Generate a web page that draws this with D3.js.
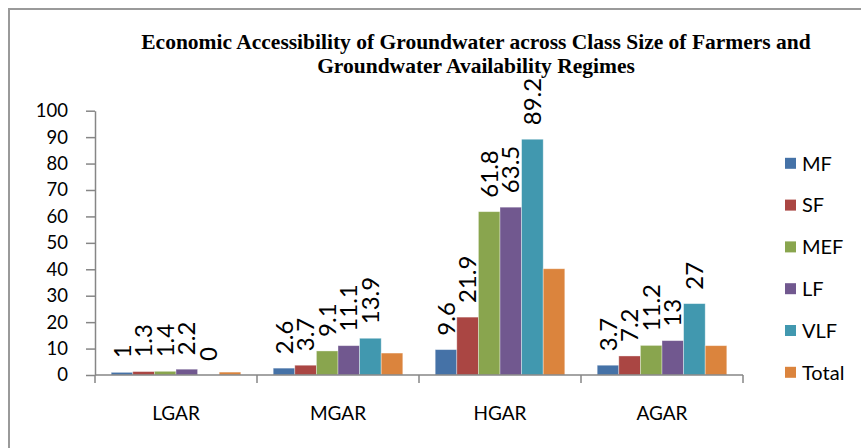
<!DOCTYPE html>
<html>
<head>
<meta charset="utf-8">
<script src="https://cdn.jsdelivr.net/npm/d3@7"></script>
<style>
  html, body { margin: 0; padding: 0; background: #fff; }
  svg { display: block; }
</style>
</head>
<body>
<svg id="chart" width="861" height="448"></svg>
<script>
const categories = ["LGAR", "MGAR", "HGAR", "AGAR"];
const seriesNames = ["MF", "SF", "MEF", "LF", "VLF", "Total"];
const MF    = [1, 2.6, 9.6, 3.7];
const SF    = [1.3, 3.7, 21.9, 7.2];
const MEF   = [1.4, 9.1, 61.8, 11.2];
const LF    = [2.2, 11.1, 63.5, 13];
const VLF   = [0, 13.9, 89.2, 27];
const Total = [1.1, 8.3, 40.2, 11.1];
const labelledSeries = ["MF", "SF", "MEF", "LF", "VLF"];
const yTicks = [0, 10, 20, 30, 40, 50, 60, 70, 80, 90, 100];
const colors = ["#4572A7", "#AA4643", "#89A54E", "#71588F", "#4198AF", "#DB843D"];
const titleLines = ["Economic Accessibility of Groundwater across Class Size of Farmers and",
                    "Groundwater Availability Regimes"];

const seriesValues = { MF, SF, MEF, LF, VLF, Total };

const svg = d3.select("#chart");
const font = "Lato, 'Open Sans', sans-serif";

// frame
svg.append("path").attr("d", "M9,448 V9 H861").attr("fill", "none")
  .attr("stroke", "#9a9a9a").attr("stroke-width", 2);

// title
svg.append("g").selectAll("text").data(titleLines).join("text")
  .attr("x", 476).attr("y", (d, i) => 49 + i * 24)
  .attr("text-anchor", "middle")
  .attr("font-family", "'Liberation Serif', 'Times New Roman', serif")
  .attr("font-weight", "bold").attr("font-size", 21.5)
  .attr("fill", "#000").text(d => d);

const y = d3.scaleLinear().domain([0, 100]).range([375, 110.7]);
const x0 = d3.scaleBand().domain(categories).range([95, 743]).padding(0);
const x1 = d3.scaleBand().domain(seriesNames)
  .range([x0.bandwidth() * 0.1, x0.bandwidth() * 0.9]).padding(0);
const color = d3.scaleOrdinal().domain(seriesNames).range(colors);

// y axis
const yAxis = svg.append("g").attr("transform", "translate(95,0)")
  .call(d3.axisLeft(y).tickValues(yTicks).tickSize(9).tickPadding(18).tickSizeOuter(0));
yAxis.select(".domain").attr("stroke", "#868686").attr("stroke-width", 1.5);
yAxis.selectAll(".tick line").attr("stroke", "#868686").attr("stroke-width", 1.5);
yAxis.selectAll(".tick text").attr("font-family", font).attr("font-size", 18.5).attr("fill", "#000");

// bars
const groups = svg.append("g").selectAll("g").data(categories).join("g")
  .attr("transform", d => `translate(${x0(d)},0)`);

groups.selectAll("rect")
  .data((c, ci) => seriesNames.map(s => ({ s, v: seriesValues[s][ci] })))
  .join("rect")
  .attr("x", d => x1(d.s))
  .attr("width", x1.bandwidth())
  .attr("y", d => y(d.v))
  .attr("height", d => y(0) - y(d.v))
  .attr("fill", d => color(d.s))
  .attr("stroke", "rgba(255,255,255,0.45)").attr("stroke-width", 0.8);

// data labels
groups.selectAll("text.lbl")
  .data((c, ci) => labelledSeries.map(s => ({ s, v: seriesValues[s][ci] })))
  .join("text").attr("class", "lbl")
  .attr("transform", d => `translate(${x1(d.s) + x1.bandwidth() / 2},${y(d.v) - 14}) rotate(-90)`)
  .attr("dy", "0.36em")
  .attr("text-anchor", "start")
  .attr("font-family", font).attr("font-size", 24).attr("fill", "#000")
  .text(d => d.v);

// x axis
const xAxis = svg.append("g").attr("transform", `translate(0,${y(0)})`);
xAxis.append("line").attr("x1", 95).attr("x2", 743).attr("stroke", "#868686").attr("stroke-width", 1.5);
const boundaries = categories.map(c => x0(c)).concat([x0(categories[categories.length - 1]) + x0.bandwidth()]);
xAxis.selectAll("line.tk").data(boundaries).join("line").attr("class", "tk")
  .attr("x1", d => d).attr("x2", d => d).attr("y1", 0).attr("y2", 8)
  .attr("stroke", "#868686").attr("stroke-width", 1.5);
xAxis.selectAll("text").data(categories).join("text")
  .attr("x", d => x0(d) + x0.bandwidth() / 2).attr("y", 45)
  .attr("text-anchor", "middle")
  .attr("font-family", font).attr("font-size", 19).attr("fill", "#000")
  .text(d => d);

// legend
const legend = svg.append("g").selectAll("g").data(seriesNames).join("g")
  .attr("transform", (d, i) => `translate(785,${163.3 + i * 41.8})`);
legend.append("rect").attr("x", 0).attr("y", -5.5).attr("width", 11).attr("height", 11)
  .attr("fill", d => color(d));
legend.append("text").attr("x", 17).attr("y", 0).attr("dy", "0.36em")
  .attr("font-family", font).attr("font-size", 20).attr("fill", "#000")
  .text(d => d);
</script>
</body>
</html>
